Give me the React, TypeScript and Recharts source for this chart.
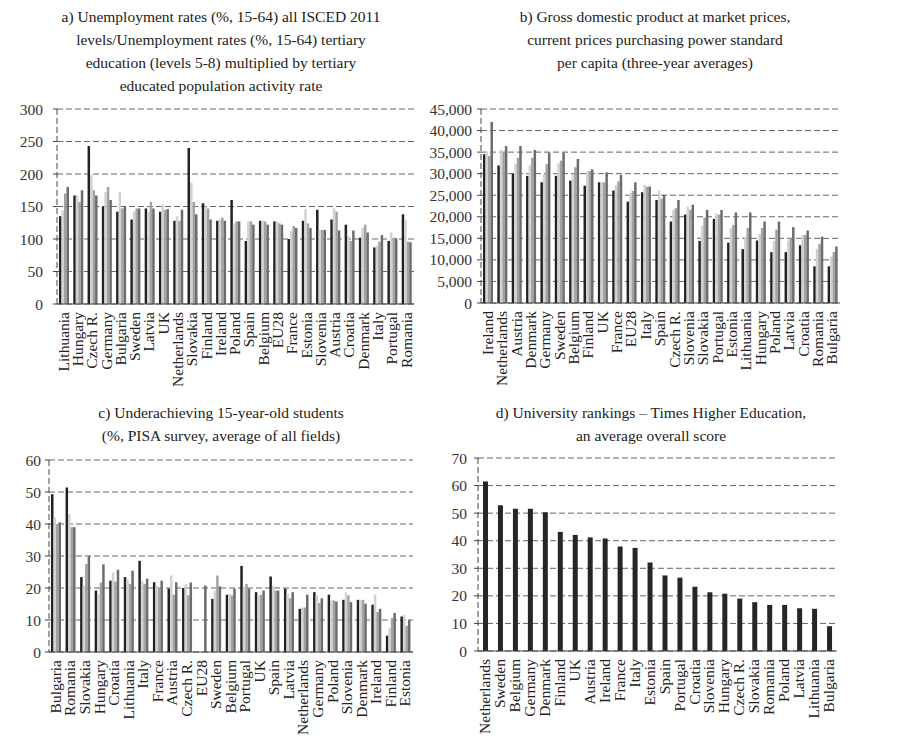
import React from 'react';
import { BarChart, Bar, XAxis, YAxis, CartesianGrid } from 'recharts';

// ---------- Panel a ----------
const catsA = ['Lithuania','Hungary','Czech R.','Germany','Bulgaria','Sweden','Latvia','UK','Netherlands','Slovakia','Finland','Ireland','Poland','Spain','Belgium','EU28','France','Estonia','Slovenia','Austria','Croatia','Denmark','Italy','Portugal','Romania'];
const a1 = [135,167,243,150,142,130,147,142,128,240,155,128,160,97,128,127,100,128,145,130,122,102,87,97,138];
const a2 = [144,167,199,172,172,142,142,153,135,187,150,130,124,127,128,127,112,146,114,147,105,117,90,110,130];
const a3 = [170,157,175,180,147,147,157,145,128,157,147,133,127,127,127,124,120,124,114,142,97,122,96,102,96];
const a4 = [180,175,167,160,150,147,147,146,145,138,130,128,127,122,122,122,117,117,114,113,113,110,106,101,95];
const ticksA = [0,50,100,150,200,250,300];

// ---------- Panel b ----------
const catsB = ['Ireland','Netherlands','Austria','Denmark','Germany','Sweden','Belgium','Finland','UK','France','EU28','Italy','Spain','Czech R.','Slovenia','Slovakia','Portugal','Estonia','Lithuania','Hungary','Poland','Latvia','Croatia','Romania','Bulgaria'];
const b1 = [34500,31900,30000,29500,28000,29500,28400,27200,28000,26100,23500,25700,23900,18900,20500,14400,19500,14000,12500,14500,11800,11800,13400,8500,8500];
const b2 = [35100,35500,32200,31900,29900,32400,29900,30500,28000,27400,25500,27400,26100,21600,22400,17900,20800,17400,15400,16000,14400,14500,15800,12600,10800];
const b3 = [34100,35000,33700,33700,32200,33000,31500,30600,28000,28200,26000,27000,24200,22000,21600,19800,20500,18100,17400,17400,17000,14900,15800,13700,11800];
const b4 = [42000,36400,36400,35500,34900,34900,33400,31000,30300,29700,28000,27000,25100,23900,22800,21600,21600,21000,21000,18900,18900,17600,16800,15400,13100];
const ticksB = [0,5000,10000,15000,20000,25000,30000,35000,40000,45000];

// ---------- Panel c ----------
const catsC = ['Bulgaria','Romania','Slovakia','Hungary','Croatia','Lithuania','Italy','France','Austria','Czech R.','EU28','Sweden','Belgium','Portugal','UK','Spain','Latvia','Netherlands','Germany','Poland','Slovenia','Denmark','Ireland','Finland','Estonia'];
const c1 = [49.3,51.4,23.4,19.2,22.3,23.4,28.5,21.8,19.8,20.0,null,16.6,17.9,26.9,18.7,23.6,19.8,13.5,18.7,17.9,16.3,16.3,14.8,5.1,11.1];
const c2 = [42.1,43.1,20.7,17.9,24.8,22.8,22.3,20.8,23.9,21.2,null,19.2,18.2,20.3,17.7,20.7,18.2,13.9,17.7,16.3,18.7,16.3,17.9,7.5,11.6];
const c3 = [40.0,39.0,27.5,21.7,22.0,21.3,21.3,19.8,17.9,17.7,null,23.9,17.7,21.3,17.9,19.2,16.8,13.9,15.3,16.1,17.7,16.3,12.5,10.6,8.2];
const c4 = [40.5,39.0,30.0,27.4,25.7,25.4,22.9,22.3,21.8,21.7,20.8,20.5,19.8,19.8,19.2,19.2,18.7,17.9,16.8,15.8,15.6,15.1,13.5,12.2,10.1];
const ticksC = [0,10,20,30,40,50,60];

// ---------- Panel d ----------
const catsD = ['Netherlands','Sweden','Belgium','Germany','Denmark','Finland','UK','Austria','Ireland','France','Italy','Estonia','Spain','Portugal','Croatia','Slovenia','Hungary','Czech R.','Slovakia','Romania','Poland','Latvia','Lithuania','Bulgaria'];
const d1 = [61.5,52.9,51.6,51.6,50.3,43.2,42.1,41.2,40.8,37.9,37.4,32.1,27.4,26.6,23.3,21.3,20.8,19.0,17.7,16.7,16.7,15.5,15.3,9.0];
const ticksD = [0,10,20,30,40,50,60,70];

const titleA = ['a) Unemployment rates (%, 15-64) all ISCED 2011','levels/Unemployment rates (%, 15-64) tertiary','education (levels 5-8) multiplied by tertiary','educated population activity rate'];
const titleB = ['b) Gross domestic product at market prices,','current prices purchasing power standard','per capita (three-year averages)'];
const titleC = ['c) Underachieving 15-year-old students','(%, PISA survey, average of all fields)'];
const titleD = ['d) University rankings \u2013 Times Higher Education,','an average overall score'];

const GREYS = ['#222222', '#d2d2d2', '#a2a2a2', '#6c6c6c'];
const FONT = '"Liberation Serif", "Times New Roman", serif';
const TICK_FS = 15.5;

const build = (cats: string[], series: (number | null)[][]) =>
  cats.map((name, i) => {
    const row: any = { name };
    series.forEach((s, k) => { row['s' + k] = s[i]; });
    return row;
  });

const RotTick = (props: any) => {
  const { x, y, payload } = props;
  return (
    <text
      x={x}
      y={y}
      transform={`rotate(-90 ${x} ${y})`}
      textAnchor="end"
      dy="0.3em"
      fontFamily={FONT}
      fontSize={TICK_FS}
      fill="#222"
    >
      {payload.value}
    </text>
  );
};

type PanelProps = {
  data: any[];
  nSeries: number;
  colors: string[];
  ticks: number[];
  L: number; T: number; W: number; H: number;
  plotLeft: number; plotRight: number; plotTop: number; plotBottom: number;
  barSize: number;
  tickMargin: number;
  fmt?: (v: number) => string;
};

const Panel = (p: PanelProps) => {
  const max = p.ticks[p.ticks.length - 1];
  return (
    <div style={{ position: 'absolute', left: p.L, top: p.T, width: p.W, height: p.H }}>
      <BarChart
        width={p.W}
        height={p.H}
        data={p.data}
        margin={{ top: p.plotTop - p.T, right: p.L + p.W - p.plotRight, bottom: 0, left: 0 }}
        barGap={0}
        barCategoryGap="10%"
      >
        <CartesianGrid yAxisId="left" vertical={false} stroke="#666" strokeDasharray="6 3" />
        <XAxis
          dataKey="name"
          interval={0}
          tick={<RotTick />}
          tickLine={false}
          axisLine={{ stroke: '#444' }}
          height={p.T + p.H - p.plotBottom}
        />
        <YAxis
          yAxisId="left"
          width={p.plotLeft - p.L}
          domain={[0, max]}
          ticks={p.ticks}
          interval={0}
          tickFormatter={p.fmt}
          tickSize={4}
          tickMargin={p.tickMargin}
          tickLine={{ stroke: '#444' }}
          axisLine={{ stroke: '#444', strokeDasharray: '6 3' }}
          tick={{ fontFamily: FONT, fontSize: TICK_FS, fill: '#333' }}
        />
        <YAxis
          yAxisId="right"
          orientation="right"
          width={0}
          domain={[0, max]}
          tick={false}
          tickLine={false}
          axisLine={{ stroke: '#666', strokeDasharray: '6 3' }}
        />
        {Array.from({ length: p.nSeries }).map((_, k) => (
          <Bar
            key={k}
            yAxisId="left"
            dataKey={'s' + k}
            fill={p.colors[k]}
            barSize={p.barSize}
            isAnimationActive={false}
          />
        ))}
      </BarChart>
    </div>
  );
};

const Title = ({ lines, cx, top }: { lines: string[]; cx: number; top: number }) => (
  <div
    style={{
      position: 'absolute',
      left: cx - 220,
      width: 440,
      top,
      textAlign: 'center',
      fontFamily: FONT,
      fontSize: 15.5,
      lineHeight: '23px',
      color: '#222',
    }}
  >
    {lines.map((l, i) => (
      <div key={i}>{l}</div>
    ))}
  </div>
);

const fmtComma = (v: number) => v.toLocaleString('en-US');

export default function App() {
  const dataA = build(catsA, [a1, a2, a3, a4]);
  const dataB = build(catsB, [b1, b2, b3, b4]);
  const dataC = build(catsC, [c1, c2, c3, c4]);
  const dataD = build(catsD, [d1]);
  return (
    <div style={{ position: 'absolute', left: 0, top: 0, width: 900, height: 743, background: '#fff', overflow: 'hidden' }}>
      <Title lines={titleA} cx={221} top={5} />
      <Title lines={titleB} cx={655} top={5} />
      <Title lines={titleC} cx={221} top={401} />
      <Title lines={titleD} cx={651} top={401} />
      <Panel data={dataA} nSeries={4} colors={GREYS} ticks={ticksA} tickMargin={10}
        L={0} T={100} W={430} H={300}
        plotLeft={57} plotRight={414} plotTop={109} plotBottom={304} barSize={2.5} />
      <Panel data={dataB} nSeries={4} colors={GREYS} ticks={ticksB} fmt={fmtComma} tickMargin={5}
        L={430} T={100} W={440} H={300}
        plotLeft={481} plotRight={840} plotTop={109} plotBottom={303} barSize={2.5} />
      <Panel data={dataC} nSeries={4} colors={GREYS} ticks={ticksC} tickMargin={4}
        L={0} T={450} W={430} H={293}
        plotLeft={49} plotRight={413} plotTop={460} plotBottom={652} barSize={2.5} />
      <Panel data={dataD} nSeries={1} colors={['#262626']} ticks={ticksD} tickMargin={7}
        L={430} T={450} W={440} H={293}
        plotLeft={478} plotRight={837} plotTop={458} plotBottom={651} barSize={5} />
    </div>
  );
}
